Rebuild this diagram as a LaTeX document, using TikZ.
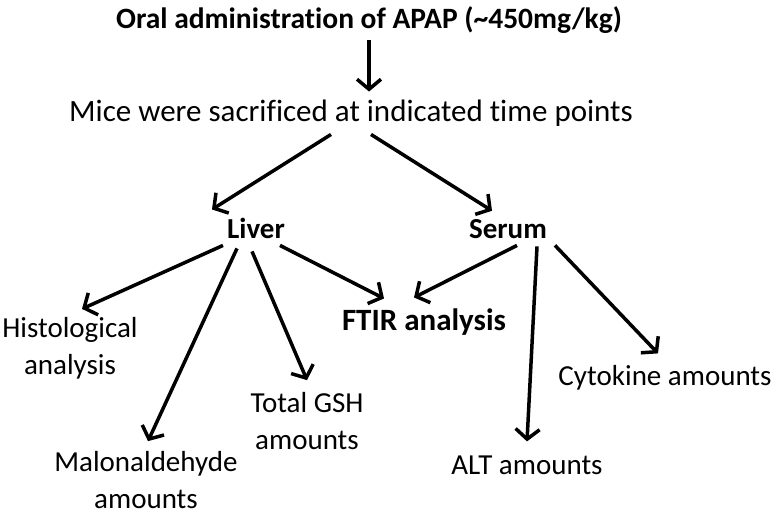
\documentclass[tikz,border=0pt]{standalone}
\usepackage{fontspec}
\setmainfont[Ligatures={NoCommon}]{Carlito}
\usetikzlibrary{arrows.meta}

\tikzset{
  lbl/.style={inner sep=0pt, align=center, font=\fontsize{29}{37}\selectfont},
  head/.style={lbl, font=\fontsize{29}{37}\selectfont\bfseries},
  arr/.style={line width=3.5pt, -{Straight Barb[length=10pt,width=24pt,line width=3.5pt]}}
}

\begin{document}
\begin{tikzpicture}[x=1pt,y=-1pt]
\useasboundingbox (0,0) rectangle (775,512);

\node[head, font=\fontsize{29.5}{37}\selectfont\bfseries] (apap) at (369,20) {Oral administration of APAP (\textasciitilde450mg/kg)};
\node[lbl, font=\fontsize{31}{37}\selectfont] (mice) at (351,113) {Mice were sacrificed at indicated time points};

\node[head, anchor=base] (liver) at (256,238) {Liver};
\node[head, anchor=base] (serum) at (508,238) {Serum};

\node[head, font=\fontsize{31}{37}\selectfont\bfseries] (ftir) at (424,322) {FTIR analysis};
\node[lbl] (histo) at (70,348) {Histological\\analysis};
\node[lbl] (malon) at (146,480) {Malonaldehyde\\amounts};
\node[lbl] (gsh) at (307,421) {Total GSH\\amounts};
\node[lbl] (alt) at (527,465) {ALT amounts};
\node[lbl] (cyto) at (665,378) {Cytokine amounts};

\draw[arr] ([yshift=-6]apap.south) -- ([yshift=8]apap.south |- mice.north);

\draw[arr] ([xshift=-20,yshift=-8]mice.south) -- ([xshift=-44,yshift=8]liver.north);
\draw[arr] ([xshift=20,yshift=-8]mice.south) -- ([xshift=-16,yshift=8]serum.north);

% liver
\draw[arr] ([xshift=-33,yshift=-7]liver.south) -- ([xshift=12,yshift=8]histo.north);
\draw[arr] ([xshift=-19,yshift=-10]liver.south) -- ([xshift=2,yshift=10]malon.north);
\draw[arr] ([xshift=-4,yshift=-13]liver.south) -- ([xshift=0,yshift=12]gsh.north);
\draw[arr] ([xshift=24,yshift=-7]liver.south) -- ([xshift=-40,yshift=10]ftir.north);

% serum
\draw[arr] ([xshift=9,yshift=-7]serum.south) -- ([xshift=-10,yshift=11]ftir.north);
\draw[arr] ([xshift=29,yshift=-8]serum.south) -- ([xshift=0,yshift=14]alt.north);
\draw[arr] ([xshift=47,yshift=-7]serum.south) -- ([xshift=-7,yshift=12]cyto.north);
\end{tikzpicture}
\end{document}
